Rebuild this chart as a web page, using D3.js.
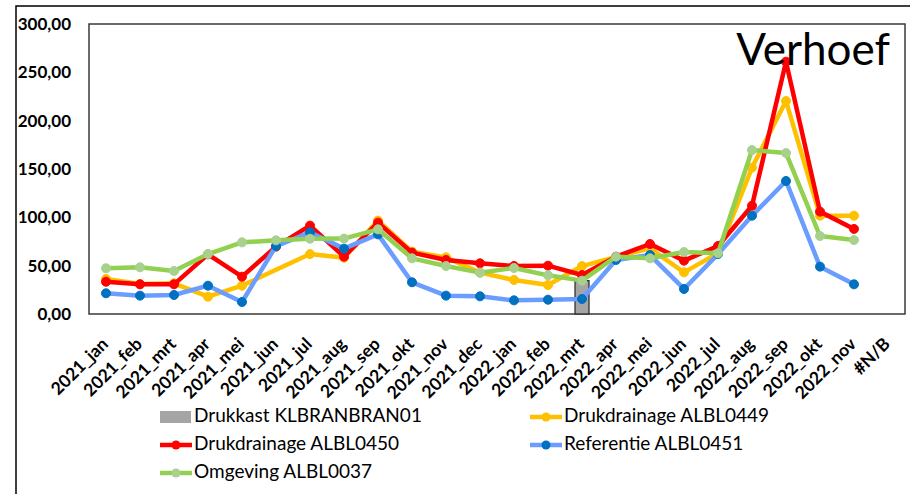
<!DOCTYPE html>
<html><head><meta charset="utf-8">
<script src="https://cdn.jsdelivr.net/npm/d3@7"></script>
<style>body{margin:0;background:#fff;}svg{display:block;}</style>
</head><body>
<svg id="c" width="910" height="494"></svg>
<script>
const categories = ["2021_jan","2021_feb","2021_mrt","2021_apr","2021_mei","2021_jun","2021_jul","2021_aug","2021_sep","2021_okt","2021_nov","2021_dec","2022_jan","2022_feb","2022_mrt","2022_apr","2022_mei","2022_jun","2022_jul","2022_aug","2022_sep","2022_okt","2022_nov","#N/B"];
const drukkast = [null,null,null,null,null,null,null,null,null,null,null,null,null,null,34.5,null,null,null,null,null,null,null,null,null];
const drukdrainage0449 = [36.2,31,31.7,17.9,29.3,null,62,58.3,96.6,64.5,58.6,42.8,35.2,30,49.6,59,67.9,43.1,63,151.4,220.3,101.7,101.7,null];
const drukdrainage0450 = [33.4,30.7,30.7,61.7,38.6,69.7,91.4,59.3,94.5,63.5,55.9,52.4,49.7,50,40.3,59.3,72.4,55.2,70.3,112,261,105.9,88,null];
const referentie0451 = [21.4,19,19.7,29.3,12.4,70.3,84.5,67.6,82.4,32.8,19,18.3,14.1,14.8,15.5,55.9,61,25.9,62,101.7,137.6,49,30.7,null];
const omgeving0037 = [47.3,48.3,44.5,62,74.1,76.2,77.9,78,87.6,57.6,49.6,42.8,47.6,40,34.5,59.3,57.6,64.1,62.8,169.6,166.5,80.7,76.5,null];
const yTicks = [0,50,100,150,200,250,300];

const lineSeries = [
  {name:"Drukdrainage ALBL0449", values:drukdrainage0449, line:"#ffc000", marker:"#ffc000"},
  {name:"Drukdrainage ALBL0450", values:drukdrainage0450, line:"#ff0000", marker:"#ff0000"},
  {name:"Referentie ALBL0451", values:referentie0451, line:"#6a9dff", marker:"#0070c0"},
  {name:"Omgeving ALBL0037", values:omgeving0037, line:"#92d050", marker:"#a9d18e"}
];

const svg = d3.select("#c");
const L = 89, R = 905, T = 24, B = 314;
const x = d3.scaleBand().domain(categories).range([L, R]).padding(0);
const y = d3.scaleLinear().domain([0, 300]).range([B, T]);
const fmt = d3.formatLocale({decimal:",", thousands:".", grouping:[3], currency:["€",""]}).format(".2f");

// outer frame
svg.append("rect").attr("x",16).attr("y",6).attr("width",910).attr("height",500)
  .attr("fill","none").attr("stroke","#000").attr("stroke-width",1.5);

// plot area border
svg.append("rect").attr("x",L).attr("y",T).attr("width",R-L).attr("height",B-T)
  .attr("fill","#fff").attr("stroke","#3a3a3a").attr("stroke-width",1.5);

// y axis labels
const yAxis = d3.axisLeft(y).tickValues(yTicks).tickFormat(fmt).tickSize(0).tickPadding(18);
const gy = svg.append("g").attr("transform",`translate(${L},0)`).call(yAxis);
gy.select(".domain").remove();
gy.selectAll("text").attr("font-family","Lato, 'Open Sans', sans-serif").attr("font-weight","bold")
  .attr("font-size",17).attr("fill","#000");

// x labels
svg.append("g").selectAll("text").data(categories).join("text")
  .attr("transform", d => `translate(${x(d)+x.bandwidth()/2},${B+28}) rotate(-45)`)
  .attr("text-anchor","end").attr("dominant-baseline","middle")
  .attr("font-family","Lato, 'Open Sans', sans-serif").attr("font-weight","bold")
  .attr("font-size",17.5).attr("fill","#000").text(d => d);

// bar
const barW = 14;
svg.append("g").selectAll("rect").data(categories.map((c,i)=>({c, v:drukkast[i]})).filter(d=>d.v!=null))
  .join("rect")
  .attr("x", d => x(d.c)+x.bandwidth()/2-barW/2).attr("width", barW)
  .attr("y", d => y(d.v)).attr("height", d => y(0)-y(d.v))
  .attr("fill","#a5a5a5").attr("stroke","#262626").attr("stroke-width",1.2);

// lines
const line = d3.line().x(d => x(d.c)+x.bandwidth()/2).y(d => y(d.v));
lineSeries.forEach(s => {
  const pts = categories.map((c,i)=>({c, v:s.values[i]})).filter(d=>d.v!=null);
  const g = svg.append("g");
  g.append("path").datum(pts).attr("d", line).attr("fill","none")
    .attr("stroke", s.line).attr("stroke-width",4.5).attr("stroke-linejoin","round");
  g.selectAll("circle").data(pts).join("circle")
    .attr("cx", d => x(d.c)+x.bandwidth()/2).attr("cy", d => y(d.v)).attr("r",4.5)
    .attr("fill", s.marker).attr("stroke", s.marker).attr("stroke-width",1);
});

// title
svg.append("text").attr("x",890).attr("y",65).attr("text-anchor","end")
  .attr("font-family","Lato, 'Open Sans', sans-serif").attr("font-size",44).attr("fill","#000").text("Verhoef");

// legend
const legendItems = [
  {name:"Drukkast KLBRANBRAN01", type:"bar", color:"#a5a5a5", col:0, row:0},
  {name:lineSeries[0].name, type:"line", color:lineSeries[0].line, marker:lineSeries[0].marker, col:1, row:0},
  {name:lineSeries[1].name, type:"line", color:lineSeries[1].line, marker:lineSeries[1].marker, col:0, row:1},
  {name:lineSeries[2].name, type:"line", color:lineSeries[2].line, marker:lineSeries[2].marker, col:1, row:1},
  {name:lineSeries[3].name, type:"line", color:lineSeries[3].line, marker:lineSeries[3].marker, col:0, row:2}
];
const colX = [160, 530], rowY = [417, 445, 473];
const lg = svg.append("g");
legendItems.forEach(it => {
  const gx = colX[it.col], gyy = rowY[it.row];
  if (it.type === "bar") {
    lg.append("rect").attr("x",gx).attr("y",gyy-6).attr("width",31).attr("height",12).attr("fill",it.color);
  } else {
    lg.append("line").attr("x1",gx).attr("x2",gx+32).attr("y1",gyy).attr("y2",gyy)
      .attr("stroke",it.color).attr("stroke-width",4.5);
    lg.append("circle").attr("cx",gx+16).attr("cy",gyy).attr("r",4.5).attr("fill",it.marker);
  }
  lg.append("text").attr("x",gx+34).attr("y",gyy).attr("dominant-baseline","middle")
    .attr("font-family","Lato, 'Open Sans', sans-serif").attr("font-size",19).attr("fill","#000").text(it.name);
});
</script>
</body></html>
